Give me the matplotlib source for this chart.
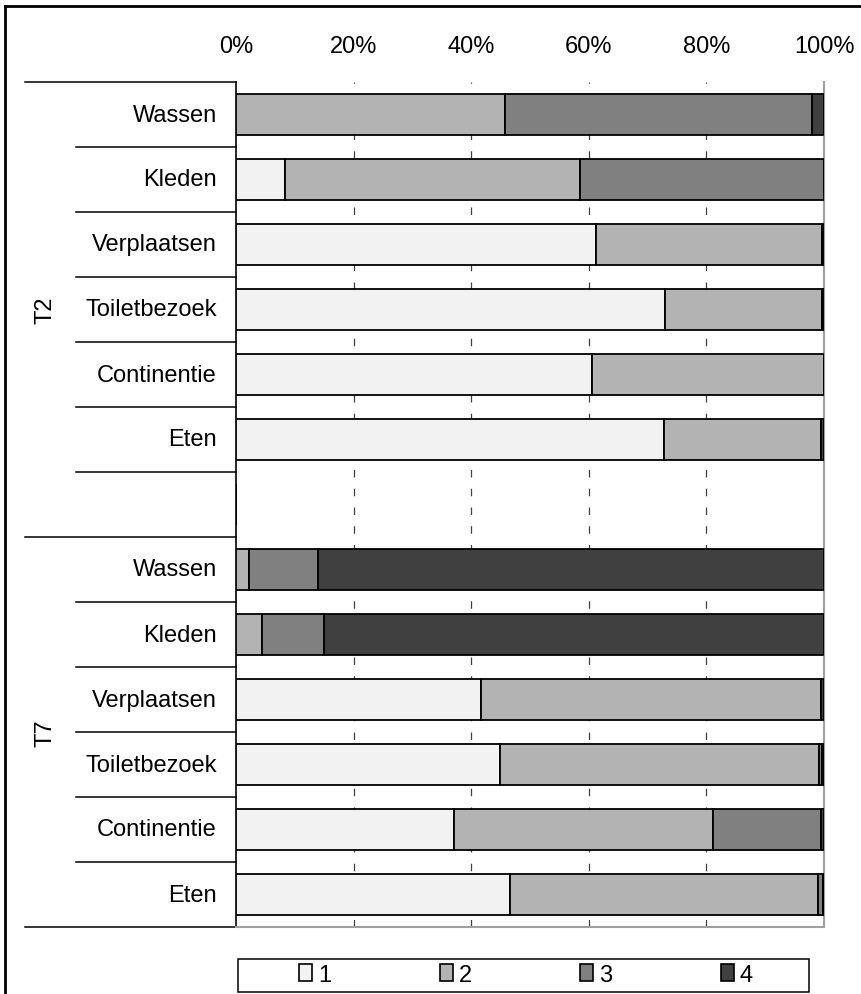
import matplotlib
matplotlib.use("Agg")
import matplotlib.pyplot as plt
from matplotlib.patches import Patch, Rectangle
from matplotlib.lines import Line2D
from matplotlib.transforms import blended_transform_factory
import numpy as np

plt.rcParams["font.family"] = ["Liberation Sans", "DejaVu Sans"]
plt.rcParams["font.size"] = 17

# rows top to bottom, "" is the empty spacer row
rows = ["Wassen", "Kleden", "Verplaatsen", "Toiletbezoek", "Continentie", "Eten", "",
        "Wassen", "Kleden", "Verplaatsen", "Toiletbezoek", "Continentie", "Eten"]
groups = ["T2", "T7"]
levels = ["1", "2", "3", "4"]

# percentage per score level, per row
score1 = [0.0, 8.3, 61.2, 73.0, 60.5, 72.8, 0, 0.0, 0.0, 41.7, 44.9, 37.1, 46.6]
score2 = [45.8, 50.2, 38.5, 26.7, 39.5, 26.7, 0, 2.2, 4.4, 57.8, 54.2, 44.0, 52.4]
score3 = [52.1, 41.5, 0.0, 0.0, 0.0, 0.0, 0, 11.7, 10.6, 0.0, 0.5, 18.4, 0.8]
score4 = [2.1, 0.0, 0.3, 0.3, 0.0, 0.5, 0, 86.1, 85.0, 0.5, 0.4, 0.5, 0.2]

colors = ["#f2f2f2", "#b3b3b3", "#808080", "#404040"]

W, H = 861, 995
fig = plt.figure(figsize=(W / 100, H / 100), dpi=100)
ax = fig.add_axes([236 / W, 1 - 928 / H, (824 - 236) / W, (928 - 83) / H])

y = np.arange(len(rows)) + 0.5
left = np.zeros(len(rows))
for vals, c in zip([score1, score2, score3, score4], colors):
    vals = np.array(vals)
    ax.barh(y, vals, left=left, height=0.63, color=c, edgecolor="black", linewidth=1.3, zorder=3)
    left += vals

ax.set_ylim(len(rows), 0)
ax.set_xlim(0, 100)
ax.set_yticks([])
ax.set_xticks([0, 20, 40, 60, 80, 100])
ax.set_xticklabels([f"{v}%" for v in [0, 20, 40, 60, 80, 100]])
ax.xaxis.tick_top()
ax.tick_params(axis="x", length=0, pad=18, labelsize=17)
for v in [20, 40, 60, 80]:
    ax.axvline(v, color="#404040", linestyle=(0, (6, 9)), linewidth=0.9, zorder=1)
ax.spines["top"].set_visible(False)
ax.spines["left"].set_color("black")
ax.spines["left"].set_linewidth(1.2)
ax.spines["right"].set_color("#a0a0a0")
ax.spines["right"].set_linewidth(1.5)
ax.spines["bottom"].set_color("#a0a0a0")
ax.spines["bottom"].set_linewidth(1.5)

# category labels and separators on the left
tr = blended_transform_factory(fig.transFigure, ax.transData)
for i, name in enumerate(rows):
    if name:
        ax.text(217 / W, i + 0.5, name, transform=tr, ha="right", va="center", fontsize=17)
for b in range(len(rows) + 1):
    x0 = 25 / W if b in (0, 7, 13) else 76 / W
    ax.add_line(Line2D([x0, 236 / W], [b, b], transform=tr, color="black", linewidth=1.1, clip_on=False))
ax.text(45 / W, 3.5, groups[0], transform=tr, rotation=90, ha="center", va="center", fontsize=17)
ax.text(45 / W, 10.0, groups[1], transform=tr, rotation=90, ha="center", va="center", fontsize=17)

# outer frame
fig.add_artist(Line2D([5 / W, 5 / W], [0, 1 - 7 / H], color="black", linewidth=2))
fig.add_artist(Line2D([5 / W, 1], [1 - 7 / H, 1 - 7 / H], color="black", linewidth=2))

# legend
fig.add_artist(Rectangle((238 / W, 1 - 993 / H), (809 - 238) / W, (993 - 960) / H,
                         transform=fig.transFigure, facecolor="white", edgecolor="black", linewidth=1.1))
handles = [Patch(facecolor=c, edgecolor="black", linewidth=1.2) for c in colors]
fig.legend(handles, levels, loc="center", bbox_to_anchor=(526 / W, 1 - 976 / H), ncol=4,
           frameon=False, handlelength=0.55, handleheight=0.7, handletextpad=0.25,
           columnspacing=4.6, fontsize=17)

fig.savefig("out.png", dpi=100)
